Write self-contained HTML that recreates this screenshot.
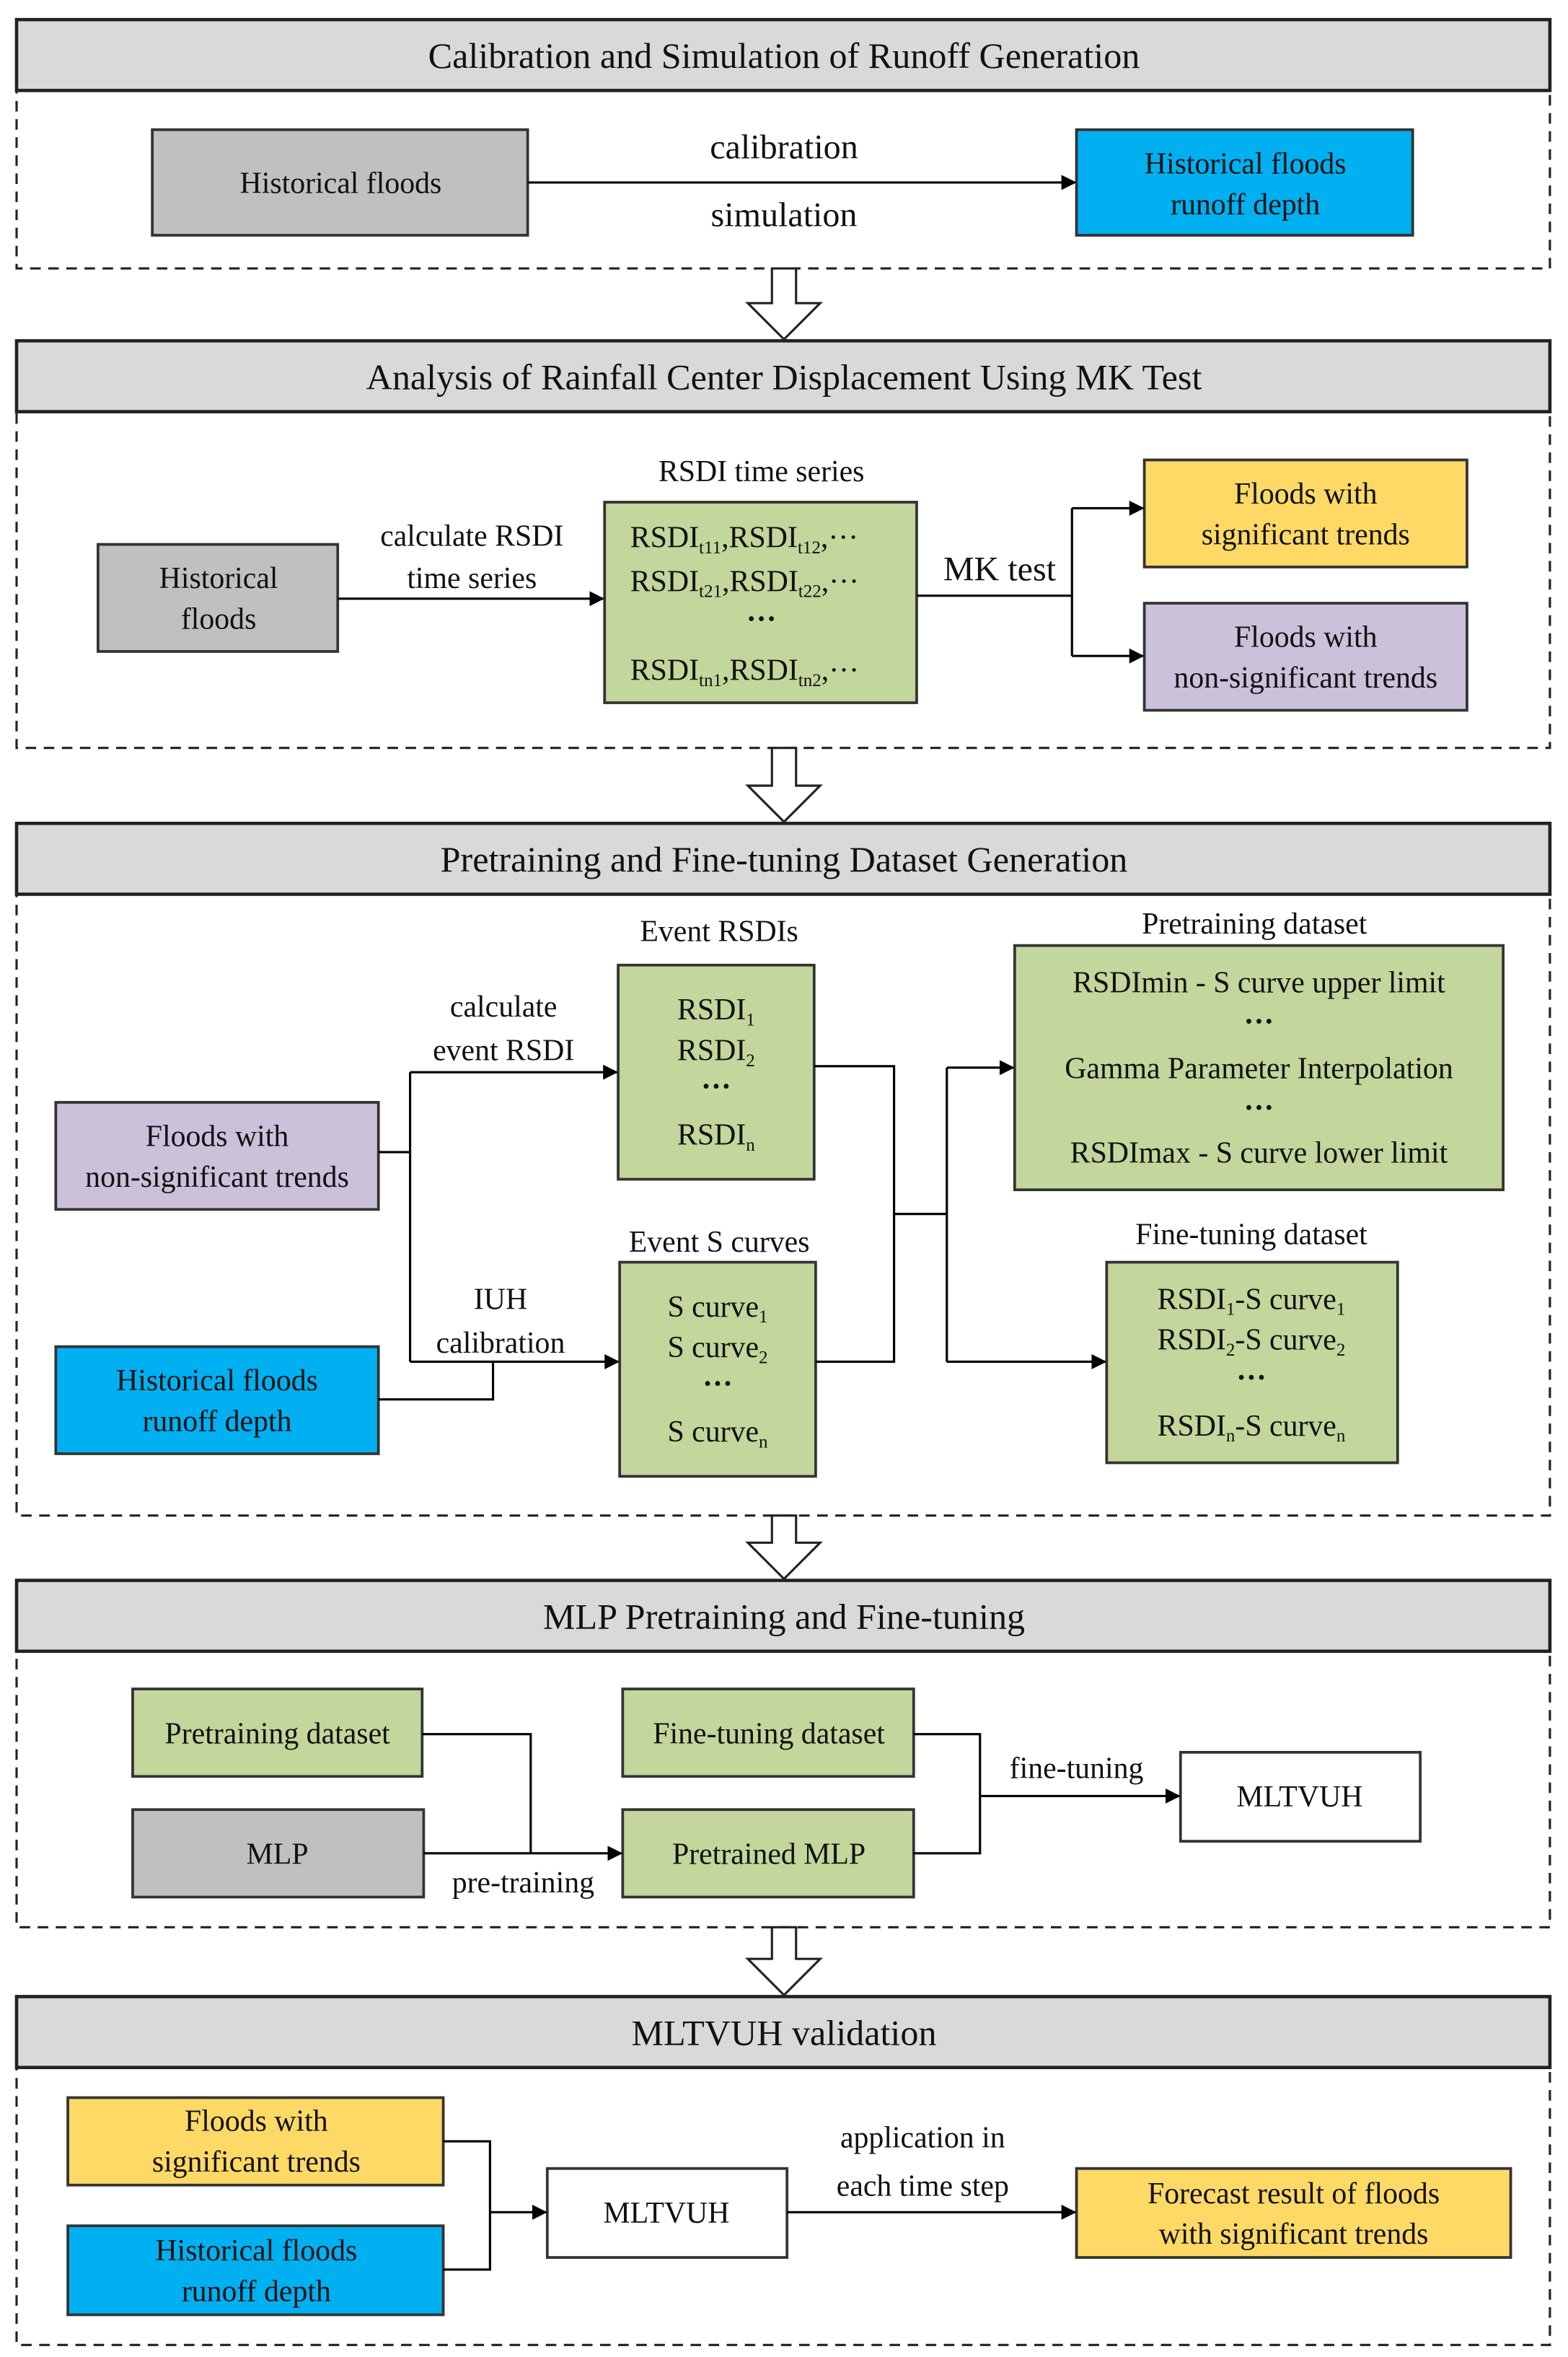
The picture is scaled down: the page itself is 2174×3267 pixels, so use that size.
<!DOCTYPE html>
<html><head><meta charset="utf-8"><style>
html,body{margin:0;padding:0;background:#fff}
svg{display:block}
text{font-family:"Liberation Serif",serif;fill:#111}
</style></head><body>
<svg width="2174" height="3267" viewBox="0 0 1040 1563" preserveAspectRatio="none" xmlns="http://www.w3.org/2000/svg">
<defs>
<marker id="a" markerWidth="10" markerHeight="10" refX="9" refY="5" orient="auto" markerUnits="userSpaceOnUse"><path d="M0,0 L10,5 L0,10 z" fill="#000"/></marker>
</defs>
<g stroke="#222" stroke-width="1.5" fill="none" stroke-dasharray="7,5">
<rect x="11" y="60" width="1017" height="118"/>
<rect x="11" y="273" width="1017" height="223"/>
<rect x="11" y="593" width="1017" height="412"/>
<rect x="11" y="1095" width="1017" height="183"/>
<rect x="11" y="1371" width="1017" height="184"/>
</g>
<g stroke="#222" stroke-width="2.2" fill="#d9d9d9">
<rect x="11" y="13" width="1017" height="47"/>
<rect x="11" y="226" width="1017" height="47"/>
<rect x="11" y="546" width="1017" height="47"/>
<rect x="11" y="1048" width="1017" height="47"/>
<rect x="11" y="1324" width="1017" height="47"/>
</g>
<g font-size="24" text-anchor="middle">
<text x="520" y="45">Calibration and Simulation of Runoff Generation</text>
<text x="520" y="258">Analysis of Rainfall Center Displacement Using MK Test</text>
<text x="520" y="578">Pretraining and Fine-tuning Dataset Generation</text>
<text x="520" y="1080">MLP Pretraining and Fine-tuning</text>
<text x="520" y="1356">MLTVUH validation</text>
</g>
<!-- hollow arrows -->
<g fill="#fff" stroke="#222" stroke-width="1.5">
<path d="M512,178 L528,178 L528,201 L544,201 L520,225 L496,201 L512,201 z"/>
<path d="M512,496 L528,496 L528,521 L544,521 L520,545 L496,521 L512,521 z"/>
<path d="M512,1005 L528,1005 L528,1023 L544,1023 L520,1047 L496,1023 L512,1023 z"/>
<path d="M512,1278 L528,1278 L528,1299 L544,1299 L520,1323 L496,1299 L512,1299 z"/>
</g>
<!-- boxes -->
<g stroke="#333" stroke-width="1.8">
<rect x="101" y="86" width="249" height="70" fill="#c0c0c0"/>
<rect x="714" y="86" width="223" height="70" fill="#00b0f0"/>
<rect x="65" y="361" width="159" height="71" fill="#c0c0c0"/>
<rect x="401" y="333" width="207" height="133" fill="#c3d69b"/>
<rect x="759" y="305" width="214" height="71" fill="#ffd966"/>
<rect x="759" y="400" width="214" height="71" fill="#ccc1da"/>
<rect x="37" y="731" width="214" height="71" fill="#ccc1da"/>
<rect x="37" y="893" width="214" height="71" fill="#00b0f0"/>
<rect x="410" y="640" width="130" height="142" fill="#c3d69b"/>
<rect x="411" y="837" width="130" height="142" fill="#c3d69b"/>
<rect x="673" y="627" width="324" height="162" fill="#c3d69b"/>
<rect x="734" y="837" width="193" height="133" fill="#c3d69b"/>
<rect x="88" y="1120" width="192" height="58" fill="#c3d69b"/>
<rect x="88" y="1200" width="193" height="58" fill="#c0c0c0"/>
<rect x="413" y="1120" width="193" height="58" fill="#c3d69b"/>
<rect x="413" y="1200" width="193" height="58" fill="#c3d69b"/>
<rect x="783" y="1162" width="159" height="59" fill="#fff"/>
<rect x="45" y="1391" width="249" height="58" fill="#ffd966"/>
<rect x="45" y="1476" width="249" height="59" fill="#00b0f0"/>
<rect x="363" y="1438" width="159" height="59" fill="#fff"/>
<rect x="714" y="1438" width="288" height="59" fill="#ffd966"/>
</g>
<!-- connectors -->
<g stroke="#000" stroke-width="1.5" fill="none">
<path d="M350,121 L713,121" marker-end="url(#a)"/>
<path d="M224,397 L400,397" marker-end="url(#a)"/>
<path d="M608,395 L711,395 M711,337 L711,435"/>
<path d="M711,337 L758,337" marker-end="url(#a)"/>
<path d="M711,435 L758,435" marker-end="url(#a)"/>
<path d="M251,764 L272,764 M272,711 L272,903 M251,928 L327,928 L327,903"/>
<path d="M272,711 L409,711" marker-end="url(#a)"/>
<path d="M272,903 L410,903" marker-end="url(#a)"/>
<path d="M540,707 L593,707 L593,903 L541,903 M593,805 L628,805 M628,708 L628,903"/>
<path d="M628,708 L672,708" marker-end="url(#a)"/>
<path d="M628,903 L733,903" marker-end="url(#a)"/>
<path d="M280,1150 L352,1150 L352,1229"/>
<path d="M281,1229 L412,1229" marker-end="url(#a)"/>
<path d="M606,1150 L650,1150 L650,1229 L606,1229"/>
<path d="M650,1191 L782,1191" marker-end="url(#a)"/>
<path d="M294,1420 L325,1420 L325,1505 L294,1505"/>
<path d="M325,1467 L362,1467" marker-end="url(#a)"/>
<path d="M522,1467 L713,1467" marker-end="url(#a)"/>
</g>
<!-- labels -->
<g font-size="20" text-anchor="middle">
<text x="226" y="128">Historical floods</text>
<text x="826" y="115">Historical floods</text>
<text x="826" y="142">runoff depth</text>
<text x="520" y="105" font-size="23">calibration</text>
<text x="520" y="150" font-size="23">simulation</text>

<text x="145" y="390">Historical</text>
<text x="145" y="417">floods</text>
<text x="313" y="362">calculate RSDI</text>
<text x="313" y="390">time series</text>
<text x="505" y="319">RSDI time series</text>
<text x="663" y="385" font-size="23">MK test</text>
<text x="866" y="334">Floods with</text>
<text x="866" y="361">significant trends</text>
<text x="866" y="429">Floods with</text>
<text x="866" y="456">non-significant trends</text>
<g text-anchor="start">
<text x="418" y="363">RSDI<tspan font-size="12" dy="4">t11</tspan><tspan dy="-4">,RSDI</tspan><tspan font-size="12" dy="4">t12</tspan><tspan dy="-4">,···</tspan></text>
<text x="418" y="392">RSDI<tspan font-size="12" dy="4">t21</tspan><tspan dy="-4">,RSDI</tspan><tspan font-size="12" dy="4">t22</tspan><tspan dy="-4">,···</tspan></text>
<text x="418" y="451">RSDI<tspan font-size="12" dy="4">tn1</tspan><tspan dy="-4">,RSDI</tspan><tspan font-size="12" dy="4">tn2</tspan><tspan dy="-4">,···</tspan></text>
</g>
<text x="505" y="417" font-weight="bold">···</text>

<text x="144" y="760">Floods with</text>
<text x="144" y="787">non-significant trends</text>
<text x="144" y="922">Historical floods</text>
<text x="144" y="949">runoff depth</text>
<text x="334" y="674">calculate</text>
<text x="334" y="703">event RSDI</text>
<text x="332" y="868">IUH</text>
<text x="332" y="897">calibration</text>
<text x="477" y="624">Event RSDIs</text>
<text x="477" y="830">Event S curves</text>
<text x="832" y="619">Pretraining dataset</text>
<text x="830" y="825">Fine-tuning dataset</text>
<text x="475" y="676">RSDI<tspan font-size="12" dy="4">1</tspan></text>
<text x="475" y="703">RSDI<tspan font-size="12" dy="4">2</tspan></text>
<text x="475" y="727" font-weight="bold">···</text>
<text x="475" y="759">RSDI<tspan font-size="12" dy="4">n</tspan></text>
<text x="476" y="873">S curve<tspan font-size="12" dy="4">1</tspan></text>
<text x="476" y="900">S curve<tspan font-size="12" dy="4">2</tspan></text>
<text x="476" y="924" font-weight="bold">···</text>
<text x="476" y="956">S curve<tspan font-size="12" dy="4">n</tspan></text>
<text x="835" y="658">RSDImin - S curve upper limit</text>
<text x="835" y="684" font-weight="bold">···</text>
<text x="835" y="715">Gamma Parameter Interpolation</text>
<text x="835" y="741" font-weight="bold">···</text>
<text x="835" y="771">RSDImax - S curve lower limit</text>
<text x="830" y="868">RSDI<tspan font-size="12" dy="4">1</tspan><tspan dy="-4">-S curve</tspan><tspan font-size="12" dy="4">1</tspan></text>
<text x="830" y="895">RSDI<tspan font-size="12" dy="4">2</tspan><tspan dy="-4">-S curve</tspan><tspan font-size="12" dy="4">2</tspan></text>
<text x="830" y="920" font-weight="bold">···</text>
<text x="830" y="952">RSDI<tspan font-size="12" dy="4">n</tspan><tspan dy="-4">-S curve</tspan><tspan font-size="12" dy="4">n</tspan></text>

<text x="184" y="1156">Pretraining dataset</text>
<text x="184" y="1236">MLP</text>
<text x="510" y="1156">Fine-tuning dataset</text>
<text x="510" y="1236">Pretrained MLP</text>
<text x="862" y="1198">MLTVUH</text>
<text x="347" y="1255">pre-training</text>
<text x="714" y="1179">fine-tuning</text>

<text x="170" y="1413">Floods with</text>
<text x="170" y="1440">significant trends</text>
<text x="170" y="1499">Historical floods</text>
<text x="170" y="1526">runoff depth</text>
<text x="442" y="1474">MLTVUH</text>
<text x="858" y="1461">Forecast result of floods</text>
<text x="858" y="1488">with significant trends</text>
<text x="612" y="1424">application in</text>
<text x="612" y="1456">each time step</text>
</g>
</svg>
</body></html>
